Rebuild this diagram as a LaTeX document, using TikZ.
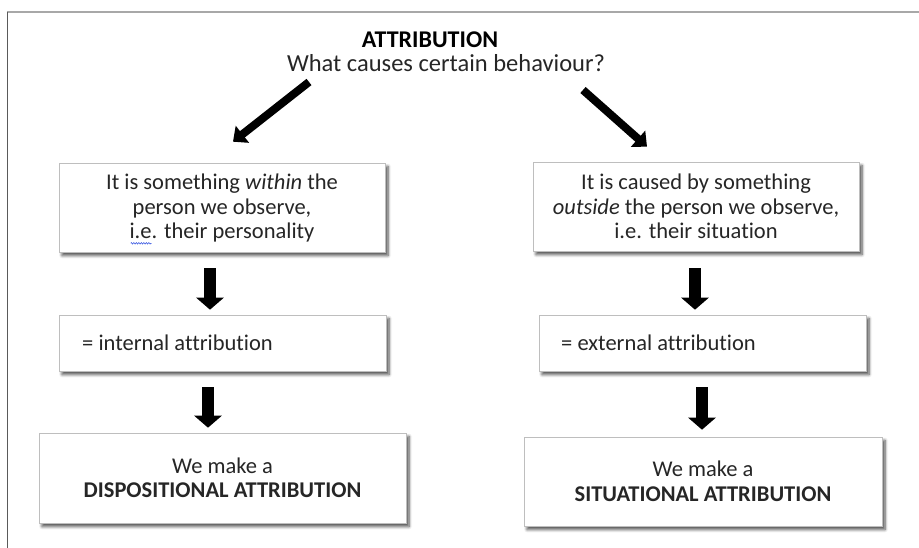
\documentclass[tikz,border=0pt]{standalone}
\usepackage{fontspec}
\setmainfont{Carlito}[Ligatures=NoCommon]
\usetikzlibrary{calc,arrows.meta,shadows.blur,decorations.pathmorphing}

\definecolor{boxline}{HTML}{BEBEBE}
\definecolor{frametop}{HTML}{A8A8A8}
\definecolor{frameleft}{HTML}{5A5A5A}
\definecolor{spellblue}{HTML}{3050E0}

\tikzset{
  card/.style={draw=boxline, line width=0.6pt, fill=white, inner sep=0pt,
    blur shadow={shadow xshift=3pt, shadow yshift=-3.5pt, shadow blur radius=3pt,
      shadow blur steps=6, shadow opacity=70}},
  cardtext/.style={font=\fontsize{22.5}{24.5}\selectfont, align=center, text=black!85},
  headtext/.style={font=\fontsize{24.5}{26}\selectfont},
  thickarrow/.style={line width=12pt, -{Triangle[width=27pt,length=12pt]}, black},
  diagarrow/.style={line width=8pt, -{Triangle[width=21pt,length=12pt]}, black},
}

\begin{document}
\begin{tikzpicture}[x=1pt,y=-1pt]
  \useasboundingbox (0,0) rectangle (919,548);

  % page frame
  \draw[frametop, line width=2pt] (7,12) -- (919,12);
  \draw[frameleft, line width=0.8pt] (7,12) -- (7,548);

  % heading
  \node[headtext, font=\fontsize{24}{26}\selectfont\bfseries] (title) at (430,40) {ATTRIBUTION};
  \node[headtext, text=black!85] (question) at (446,63) {What causes certain behaviour?};

  % boxes
  \node[card, minimum width=326pt, minimum height=89pt] (within) at (222,207.5) {};
  \node[cardtext] at ($(within.center)+(0,1)$) {It is something \textit{within} the\\person we observe,\\i.e. their personality};
  \node[card, minimum width=326pt, minimum height=89pt] (outside) at (696,206.5) {};
  \node[cardtext] at (outside.center) {It is caused by something\\\textit{outside} the person we observe,\\i.e. their situation};

  \node[card, minimum width=327pt, minimum height=56pt] (internal) at (222.5,343) {};
  \node[cardtext, anchor=west] at ($(internal.west)+(20,0)$) {= internal attribution};
  \node[card, minimum width=327pt, minimum height=56pt] (external) at (702.5,343) {};
  \node[cardtext, anchor=west] at ($(external.west)+(19,0)$) {= external attribution};

  \node[card, minimum width=367pt, minimum height=90pt] (dispositional) at (222.5,478) {};
  \node[cardtext] at (dispositional.center) {We make a\\\textbf{DISPOSITIONAL ATTRIBUTION}};
  \node[card, minimum width=358pt, minimum height=89pt] (situational) at (703,481.5) {};
  \node[cardtext] at (situational.center) {We make a\\\textbf{SITUATIONAL ATTRIBUTION}};

  % spell-check squiggle under "i.e."
  \draw[spellblue, line width=0.5pt, decorate,
        decoration={zigzag, amplitude=0.8pt, segment length=2.5pt}]
    ($(within.south west)+(72,-9)$) -- ++(21,0);

  % arrows
  \draw[diagarrow] ($(question.center)+(-137,19)$) -- ($(within.north)+(11,-21)$);
  \draw[diagarrow] ($(question.center)+(137,27)$) -- ($(outside.north)+(-49,-15)$);

  \draw[thickarrow] ($(within.south)+(-12,16)$) -- ($(internal.north)+(-12.5,-5)$);
  \draw[thickarrow] ($(outside.south)+(-1,17)$) -- ($(external.north)+(-7.5,-5)$);
  \draw[thickarrow] ($(internal.south)+(-14.5,16)$) -- ($(dispositional.north)+(-14.5,-5)$);
  \draw[thickarrow] ($(external.south)+(-0.5,16)$) -- ($(situational.north)+(-1,-7)$);
\end{tikzpicture}
\end{document}
